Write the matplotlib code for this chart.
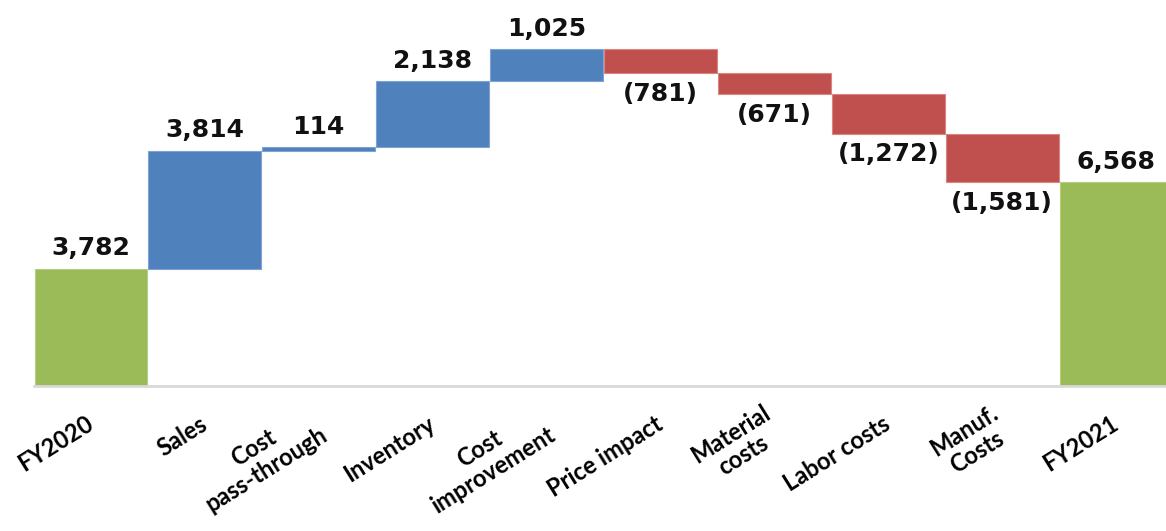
import matplotlib.pyplot as plt
import numpy as np

# Operating profit bridge FY2020 -> FY2021
categories = ['FY2020', 'Sales', 'Cost\npass-through', 'Inventory', 'Cost\nimprovement',
              'Price impact', 'Material\ncosts', 'Labor costs', 'Manuf.\nCosts', 'FY2021']
values = [3782, 3814, 114, 2138, 1025, -781, -671, -1272, -1581, 6568]
is_total = [True, False, False, False, False, False, False, False, False, True]

green = '#9BBB59'
blue = '#4F81BD'
red = '#C0504D'

# bottoms for the floating bars
bottoms = []
running = 0
for v, tot in zip(values, is_total):
    if tot:
        bottoms.append(0)
        running = v
    elif v >= 0:
        bottoms.append(running)
        running += v
    else:
        running += v
        bottoms.append(running)

heights = [abs(v) for v in values]
colors = [green if t else (blue if v >= 0 else red) for v, t in zip(values, is_total)]
edges = ['#B5CF82' if t else ('#7FA3D3' if v >= 0 else '#D88583') for v, t in zip(values, is_total)]

fig = plt.figure(figsize=(11.66, 5.31), dpi=100)
ax = fig.add_axes([34 / 1166, 145.5 / 531, 1139 / 1166, 371 / 531])

x = np.arange(len(categories))
ax.bar(x, heights, bottom=bottoms, width=0.99, color=colors, edgecolor=edges, linewidth=0.8)

def fmt(v):
    return f'{v:,}' if v >= 0 else f'({-v:,})'

for xi, v, b, h in zip(x, values, bottoms, heights):
    if v >= 0:
        ax.annotate(fmt(v), (xi, b + h), xytext=(0, 6), textcoords='offset points',
                    ha='center', va='bottom', fontsize=18, fontweight='bold',
                    family='DejaVu Sans', color='#111111')
    else:
        ax.annotate(fmt(v), (xi, b), xytext=(0, -6), textcoords='offset points',
                    ha='center', va='top', fontsize=18, fontweight='bold',
                    family='DejaVu Sans', color='#111111')

ax.set_xlim(-0.5, len(categories) - 0.5)
ax.set_ylim(0, 12000)
ax.set_xticks(x)
ax.set_xticklabels(categories, rotation=32, ha='right', va='center', rotation_mode='anchor',
                   multialignment='center', fontsize=17, fontweight='bold', family='Lato',
                   linespacing=1.1)
ax.tick_params(axis='x', length=0, pad=26)
ax.set_yticks([])
for side in ['top', 'left', 'right']:
    ax.spines[side].set_visible(False)
ax.spines['bottom'].set_color('#D9D9D9')
ax.spines['bottom'].set_linewidth(2)

fig.savefig('out.png', dpi=100)
